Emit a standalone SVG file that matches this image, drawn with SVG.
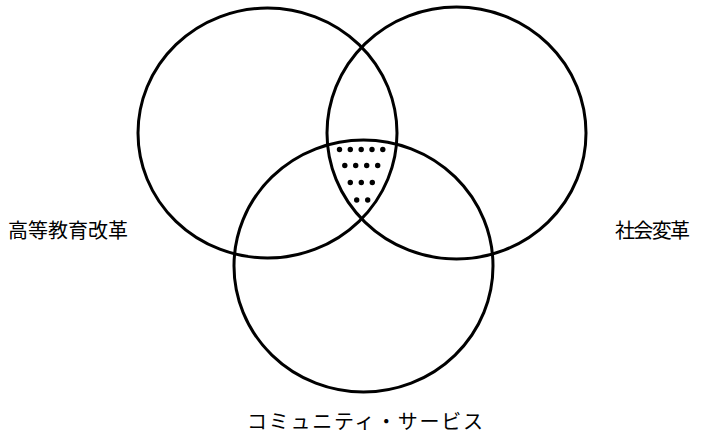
<svg xmlns="http://www.w3.org/2000/svg" width="702" height="437" viewBox="0 0 702 437">
<style>
.c{fill:none;stroke:#000;stroke-width:3}
.d{fill:#000}
.t{font-family:"Noto Sans CJK JP","Noto Sans CJK SC",sans-serif;font-size:20px;fill:#000}
</style>
<rect width="702" height="437" fill="#fff"/>
<g id="connectors"></g>
<g id="higher-ed">
<ellipse class="c" cx="267.5" cy="133" rx="129.5" ry="125"/>
<text class="t" x="8" y="238" textLength="120">高等教育改革</text>
</g>
<g id="social-change">
<ellipse class="c" cx="456.5" cy="133" rx="129.5" ry="126"/>
<text class="t" x="615" y="238" textLength="75">社会変革</text>
</g>
<g id="community-service">
<ellipse class="c" cx="363.5" cy="266" rx="129.5" ry="126"/>
<text class="t" x="247" y="429" textLength="236">コミュニティ・サービス</text>
</g>
<g id="overlap">
<circle class="d" cx="339.5" cy="149.5" r="2.7"/>
<circle class="d" cx="350.3" cy="149.5" r="2.7"/>
<circle class="d" cx="361.2" cy="149.5" r="2.7"/>
<circle class="d" cx="372" cy="149.5" r="2.7"/>
<circle class="d" cx="382.8" cy="149.5" r="2.7"/>
<circle class="d" cx="344.8" cy="165.5" r="2.7"/>
<circle class="d" cx="355.7" cy="165.5" r="2.7"/>
<circle class="d" cx="366.7" cy="165.5" r="2.7"/>
<circle class="d" cx="377.7" cy="165.5" r="2.7"/>
<circle class="d" cx="350.3" cy="182.5" r="2.7"/>
<circle class="d" cx="361.3" cy="182.5" r="2.7"/>
<circle class="d" cx="372.3" cy="182.5" r="2.7"/>
<circle class="d" cx="356.7" cy="200" r="2.7"/>
<circle class="d" cx="367.7" cy="200" r="2.7"/>
</g>
</svg>
